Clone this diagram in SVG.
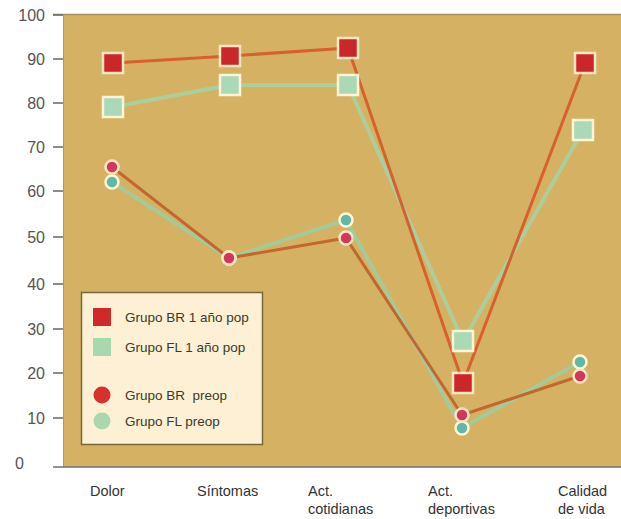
<svg xmlns="http://www.w3.org/2000/svg" width="621" height="519" viewBox="0 0 621 519">
<style>
.yl{font-family:"Liberation Sans",Arial,sans-serif;font-size:16px;fill:#555;text-anchor:end}
.xl{font-family:"Liberation Sans",Arial,sans-serif;font-size:14.5px;fill:#333}
.lg{font-family:"Liberation Sans",Arial,sans-serif;font-size:13.5px;fill:#3a3a2a}
.tick{stroke:#666;stroke-width:1.5}
.sqBR{fill:#c9272a;stroke:#fbe6c2;stroke-width:2.5}
.sqFL{fill:#a9d9b6;stroke:#fff4d6;stroke-width:2.5}
.ciBR{fill:#d2385a;stroke:#fbe6c2;stroke-width:2.5}
.ciFL{fill:#5fb9a9;stroke:#fff4d6;stroke-width:2.5}
.lnBR{fill:none;stroke:#d8602f;stroke-width:3;stroke-linejoin:round}
.lnFL{fill:none;stroke:#a6d2a2;stroke-width:4;stroke-linejoin:round;opacity:0.9}
.lnBRp{fill:none;stroke:#c4662f;stroke-width:3;stroke-linejoin:round}
.lnFLp{fill:none;stroke:#9fcca0;stroke-width:4;stroke-linejoin:round;opacity:0.9}
</style>
<rect width="621" height="519" fill="#ffffff"/>
<g id="plot">
<rect x="63" y="14" width="558" height="453" fill="#d5b263"/>
<line x1="53" y1="14.5" x2="621" y2="14.5" stroke="#a39060" stroke-width="1.5"/>
<line x1="63.5" y1="14" x2="63.5" y2="467" stroke="#b09a5c" stroke-width="1"/>
<line x1="53" y1="467" x2="621" y2="467" stroke="#6f6f6a" stroke-width="1.5"/>
</g>
<g id="y-axis">
<line class="tick" x1="53" y1="15" x2="63" y2="15"/>
<line class="tick" x1="53" y1="59" x2="63" y2="59"/>
<line class="tick" x1="53" y1="103" x2="63" y2="103"/>
<line class="tick" x1="53" y1="147" x2="63" y2="147"/>
<line class="tick" x1="53" y1="191" x2="63" y2="191"/>
<line class="tick" x1="53" y1="237" x2="63" y2="237"/>
<line class="tick" x1="53" y1="284" x2="63" y2="284"/>
<line class="tick" x1="53" y1="329" x2="63" y2="329"/>
<line class="tick" x1="53" y1="373" x2="63" y2="373"/>
<line class="tick" x1="53" y1="418" x2="63" y2="418"/>
<text class="yl" x="45" y="21">100</text>
<text class="yl" x="45" y="65">90</text>
<text class="yl" x="45" y="109">80</text>
<text class="yl" x="45" y="153">70</text>
<text class="yl" x="45" y="197">60</text>
<text class="yl" x="45" y="243">50</text>
<text class="yl" x="45" y="290">40</text>
<text class="yl" x="45" y="335">30</text>
<text class="yl" x="45" y="379">20</text>
<text class="yl" x="45" y="424">10</text>
<text class="yl" x="24" y="469">0</text>
</g>
<g id="x-axis">
<text class="xl" x="90" y="496">Dolor</text>
<text class="xl" x="197" y="496">Síntomas</text>
<text class="xl" x="308" y="496">Act.</text>
<text class="xl" x="308" y="514">cotidianas</text>
<text class="xl" x="428" y="496">Act.</text>
<text class="xl" x="428" y="514">deportivas</text>
<text class="xl" x="558" y="496">Calidad</text>
<text class="xl" x="558" y="514">de vida</text>
</g>
<g id="connectors">
<polyline class="lnFLp" points="112,182 229,258 346,220 462,428 580,362"/>
<polyline class="lnBRp" points="112,167 229,258 346,238 462,415 580,376"/>
<polyline class="lnFL" points="113,107 230,85 348,85 463,341 583,130"/>
<polyline class="lnBR" points="113,63 230,56 348,48 463,383 585,63"/>
</g>
<g id="series-FL-preop">
<circle class="ciFL" cx="112" cy="182" r="6.5"/>
<circle class="ciFL" cx="229" cy="258" r="6.5"/>
<circle class="ciFL" cx="346" cy="220" r="6.5"/>
<circle class="ciFL" cx="462" cy="428" r="6.5"/>
<circle class="ciFL" cx="580" cy="362" r="6.5"/>
</g>
<g id="series-BR-preop">
<circle class="ciBR" cx="112" cy="167" r="6.5"/>
<circle class="ciBR" cx="229" cy="258" r="6.5"/>
<circle class="ciBR" cx="346" cy="238" r="6.5"/>
<circle class="ciBR" cx="462" cy="415" r="6.5"/>
<circle class="ciBR" cx="580" cy="376" r="6.5"/>
</g>
<g id="series-FL-1ano">
<rect class="sqFL" x="103" y="97" width="20" height="20"/>
<rect class="sqFL" x="220" y="75" width="20" height="20"/>
<rect class="sqFL" x="338" y="75" width="20" height="20"/>
<rect class="sqFL" x="453" y="331" width="20" height="20"/>
<rect class="sqFL" x="573" y="120" width="20" height="20"/>
</g>
<g id="series-BR-1ano">
<rect class="sqBR" x="103" y="53" width="20" height="20"/>
<rect class="sqBR" x="220" y="46" width="20" height="20"/>
<rect class="sqBR" x="338" y="38" width="20" height="20"/>
<rect class="sqBR" x="453" y="373" width="20" height="20"/>
<rect class="sqBR" x="575" y="53" width="20" height="20"/>
</g>
<g id="legend">
<rect x="81.5" y="292.5" width="181" height="152" fill="#fdf0d4" stroke="#76683a" stroke-width="1.5"/>
<rect x="93" y="308" width="18" height="18" fill="#cf2a2a"/>
<rect x="93" y="338" width="18" height="18" fill="#a8d8ad"/>
<circle cx="102" cy="395" r="8.5" fill="#d8302c"/>
<circle cx="102" cy="421" r="8.5" fill="#a9d8ae"/>
<text class="lg" x="125" y="322">Grupo BR 1 año pop</text>
<text class="lg" x="125" y="352">Grupo FL 1 año pop</text>
<text class="lg" x="125" y="400" xml:space="preserve">Grupo BR  preop</text>
<text class="lg" x="125" y="426">Grupo FL preop</text>
</g>
</svg>
